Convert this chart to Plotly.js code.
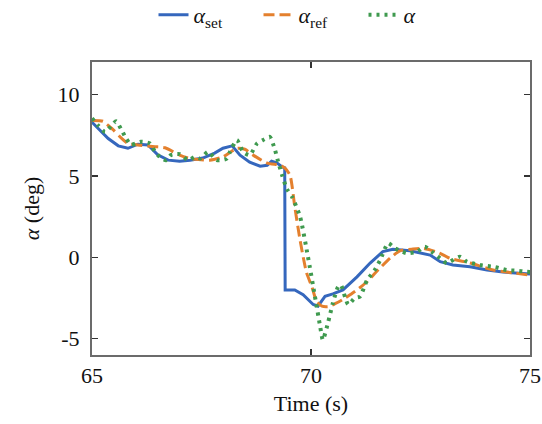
<!DOCTYPE html>
<html>
<head>
<meta charset="utf-8">
<script src="https://cdn.plot.ly/plotly-3.0.1.min.js"></script>
<style>html,body{margin:0;padding:0;background:#fff;}#chart{width:542px;height:424px;}</style>
</head>
<body>
<div id="chart"></div>
<script>
// alpha_set
const tSet = [65.0,65.15,65.37,65.6,65.82,66.05,66.28,66.5,66.74,67.0,67.24,67.53,67.8,67.99,68.2,68.38,68.6,68.84,69.0,69.1,69.22,69.34,69.4,69.41,69.5,69.63,69.82,70.05,70.16,70.32,70.5,70.73,71.05,71.35,71.64,71.87,72.26,72.5,72.72,72.95,73.24,73.63,74.02,74.38,74.93,75.0];
const aSet = [8.3,7.9,7.3,6.85,6.7,6.95,6.9,6.3,5.97,5.9,5.97,6.1,6.4,6.7,6.85,6.28,5.85,5.6,5.65,5.9,5.8,5.56,5.5,-2.0,-2.0,-2.0,-2.3,-2.9,-3.0,-2.4,-2.25,-2.0,-1.2,-0.35,0.35,0.5,0.4,0.26,0.14,-0.27,-0.47,-0.58,-0.78,-0.9,-1.02,-1.03];
// alpha_ref
const tRef = [65.0,65.25,65.37,65.5,65.64,65.82,66.05,66.44,66.67,67.0,67.24,67.69,67.99,68.31,68.49,68.68,69.0,69.29,69.4,69.52,69.63,69.75,69.9,70.02,70.13,70.25,70.39,70.55,70.71,71.0,71.28,71.53,71.8,72.03,72.3,72.56,72.9,73.17,73.63,74.16,74.6,75.0];
const aRef = [8.4,8.36,8.1,7.8,7.4,7.0,6.9,6.8,6.73,6.28,6.07,5.97,6.17,6.7,6.64,6.28,5.79,5.66,5.5,5.05,3.1,1.06,-0.96,-1.8,-2.72,-3.0,-3.03,-2.85,-2.62,-2.1,-1.5,-0.78,-0.06,0.4,0.5,0.55,0.3,-0.06,-0.35,-0.78,-0.95,-1.1];
// alpha
const tA = [65.0,65.14,65.3,65.48,65.55,65.66,65.78,65.89,66.0,66.12,66.32,66.44,66.55,66.69,66.8,67.0,67.19,67.35,67.47,67.65,67.85,68.08,68.15,68.31,68.45,68.6,68.77,68.9,69.06,69.18,69.25,69.34,69.45,69.57,69.75,69.93,70.09,70.21,70.27,70.39,70.5,70.62,70.68,70.85,71.0,71.12,71.28,71.45,71.58,71.76,71.92,72.19,72.42,72.6,72.76,73.0,73.1,73.4,73.56,73.86,74.2,74.47,74.7,74.89,75.0];
const aA = [8.55,8.1,7.7,8.2,8.36,7.9,7.3,6.9,7.0,7.1,7.0,6.48,6.17,5.97,6.28,6.34,5.97,6.17,6.07,6.48,5.97,6.07,6.48,7.2,6.48,6.28,7.0,7.2,7.4,6.58,5.87,5.05,4.2,3.7,2.5,0.04,-2.4,-4.26,-5.07,-4.0,-2.8,-1.8,-1.7,-2.9,-2.5,-2.4,-1.4,-0.8,-0.17,0.86,0.55,0.25,0.34,0.65,0.34,-0.17,-0.35,0.04,-0.27,-0.47,-0.6,-0.78,-0.82,-0.88,-0.9];

const xTicks = [65, 70, 75];
const yTicks = [-5, 0, 5, 10];
const yTickText = ['-5', '0', '5', '10'];

const serif = 'Liberation Serif';

const traces = [
  {x: tSet, y: aSet, mode: 'lines', name: '<i>α</i><sub>set</sub>',
   line: {color: '#3567bd', width: 3}},
  {x: tRef, y: aRef, mode: 'lines', name: '<i>α</i><sub>ref</sub>',
   line: {color: '#e4802e', width: 3, dash: '11px,5px', shape: 'spline', smoothing: 0.6}},
  {x: tA, y: aA, mode: 'lines', name: '<i>α</i>',
   line: {color: '#3f9a4f', width: 4, dash: '3px,5px', shape: 'spline', smoothing: 0.6}}
];

const axisCommon = {
  showgrid: false, zeroline: false,
  showline: true, linecolor: '#6b6b6b', linewidth: 2,
  mirror: 'ticks', ticks: 'inside', ticklen: 6, tickwidth: 1.5, tickcolor: '#333',
  tickfont: {family: serif, size: 22, color: '#111'}
};

const layout = {
  width: 542, height: 424,
  margin: {l: 92, r: 12, t: 62, b: 69, autoexpand: false},
  paper_bgcolor: '#fff', plot_bgcolor: '#fff',
  font: {family: serif, color: '#111', size: 22},
  showlegend: true,
  legend: {orientation: 'h', x: 0.5, xanchor: 'center', yref: 'container', y: 0.965, yanchor: 'middle',
           font: {family: serif, size: 22, color: '#111'}, itemwidth: 30, entrywidth: 60, tracegroupgap: 0},
  xaxis: Object.assign({}, axisCommon, {
    range: [65, 75], tickmode: 'array', tickvals: xTicks,
    title: {text: 'Time (s)', font: {family: serif, size: 22, color: '#111'}, standoff: 8}
  }),
  yaxis: Object.assign({}, axisCommon, {
    range: [-6, 12], tickmode: 'array', tickvals: yTicks, ticktext: yTickText,
    ticklabelstandoff: 6,
    title: {text: '<i>α</i> (deg)', font: {family: serif, size: 22, color: '#111'}, standoff: 12}
  })
};

Plotly.newPlot('chart', traces, layout, {displayModeBar: false, staticPlot: true});
</script>
</body>
</html>
